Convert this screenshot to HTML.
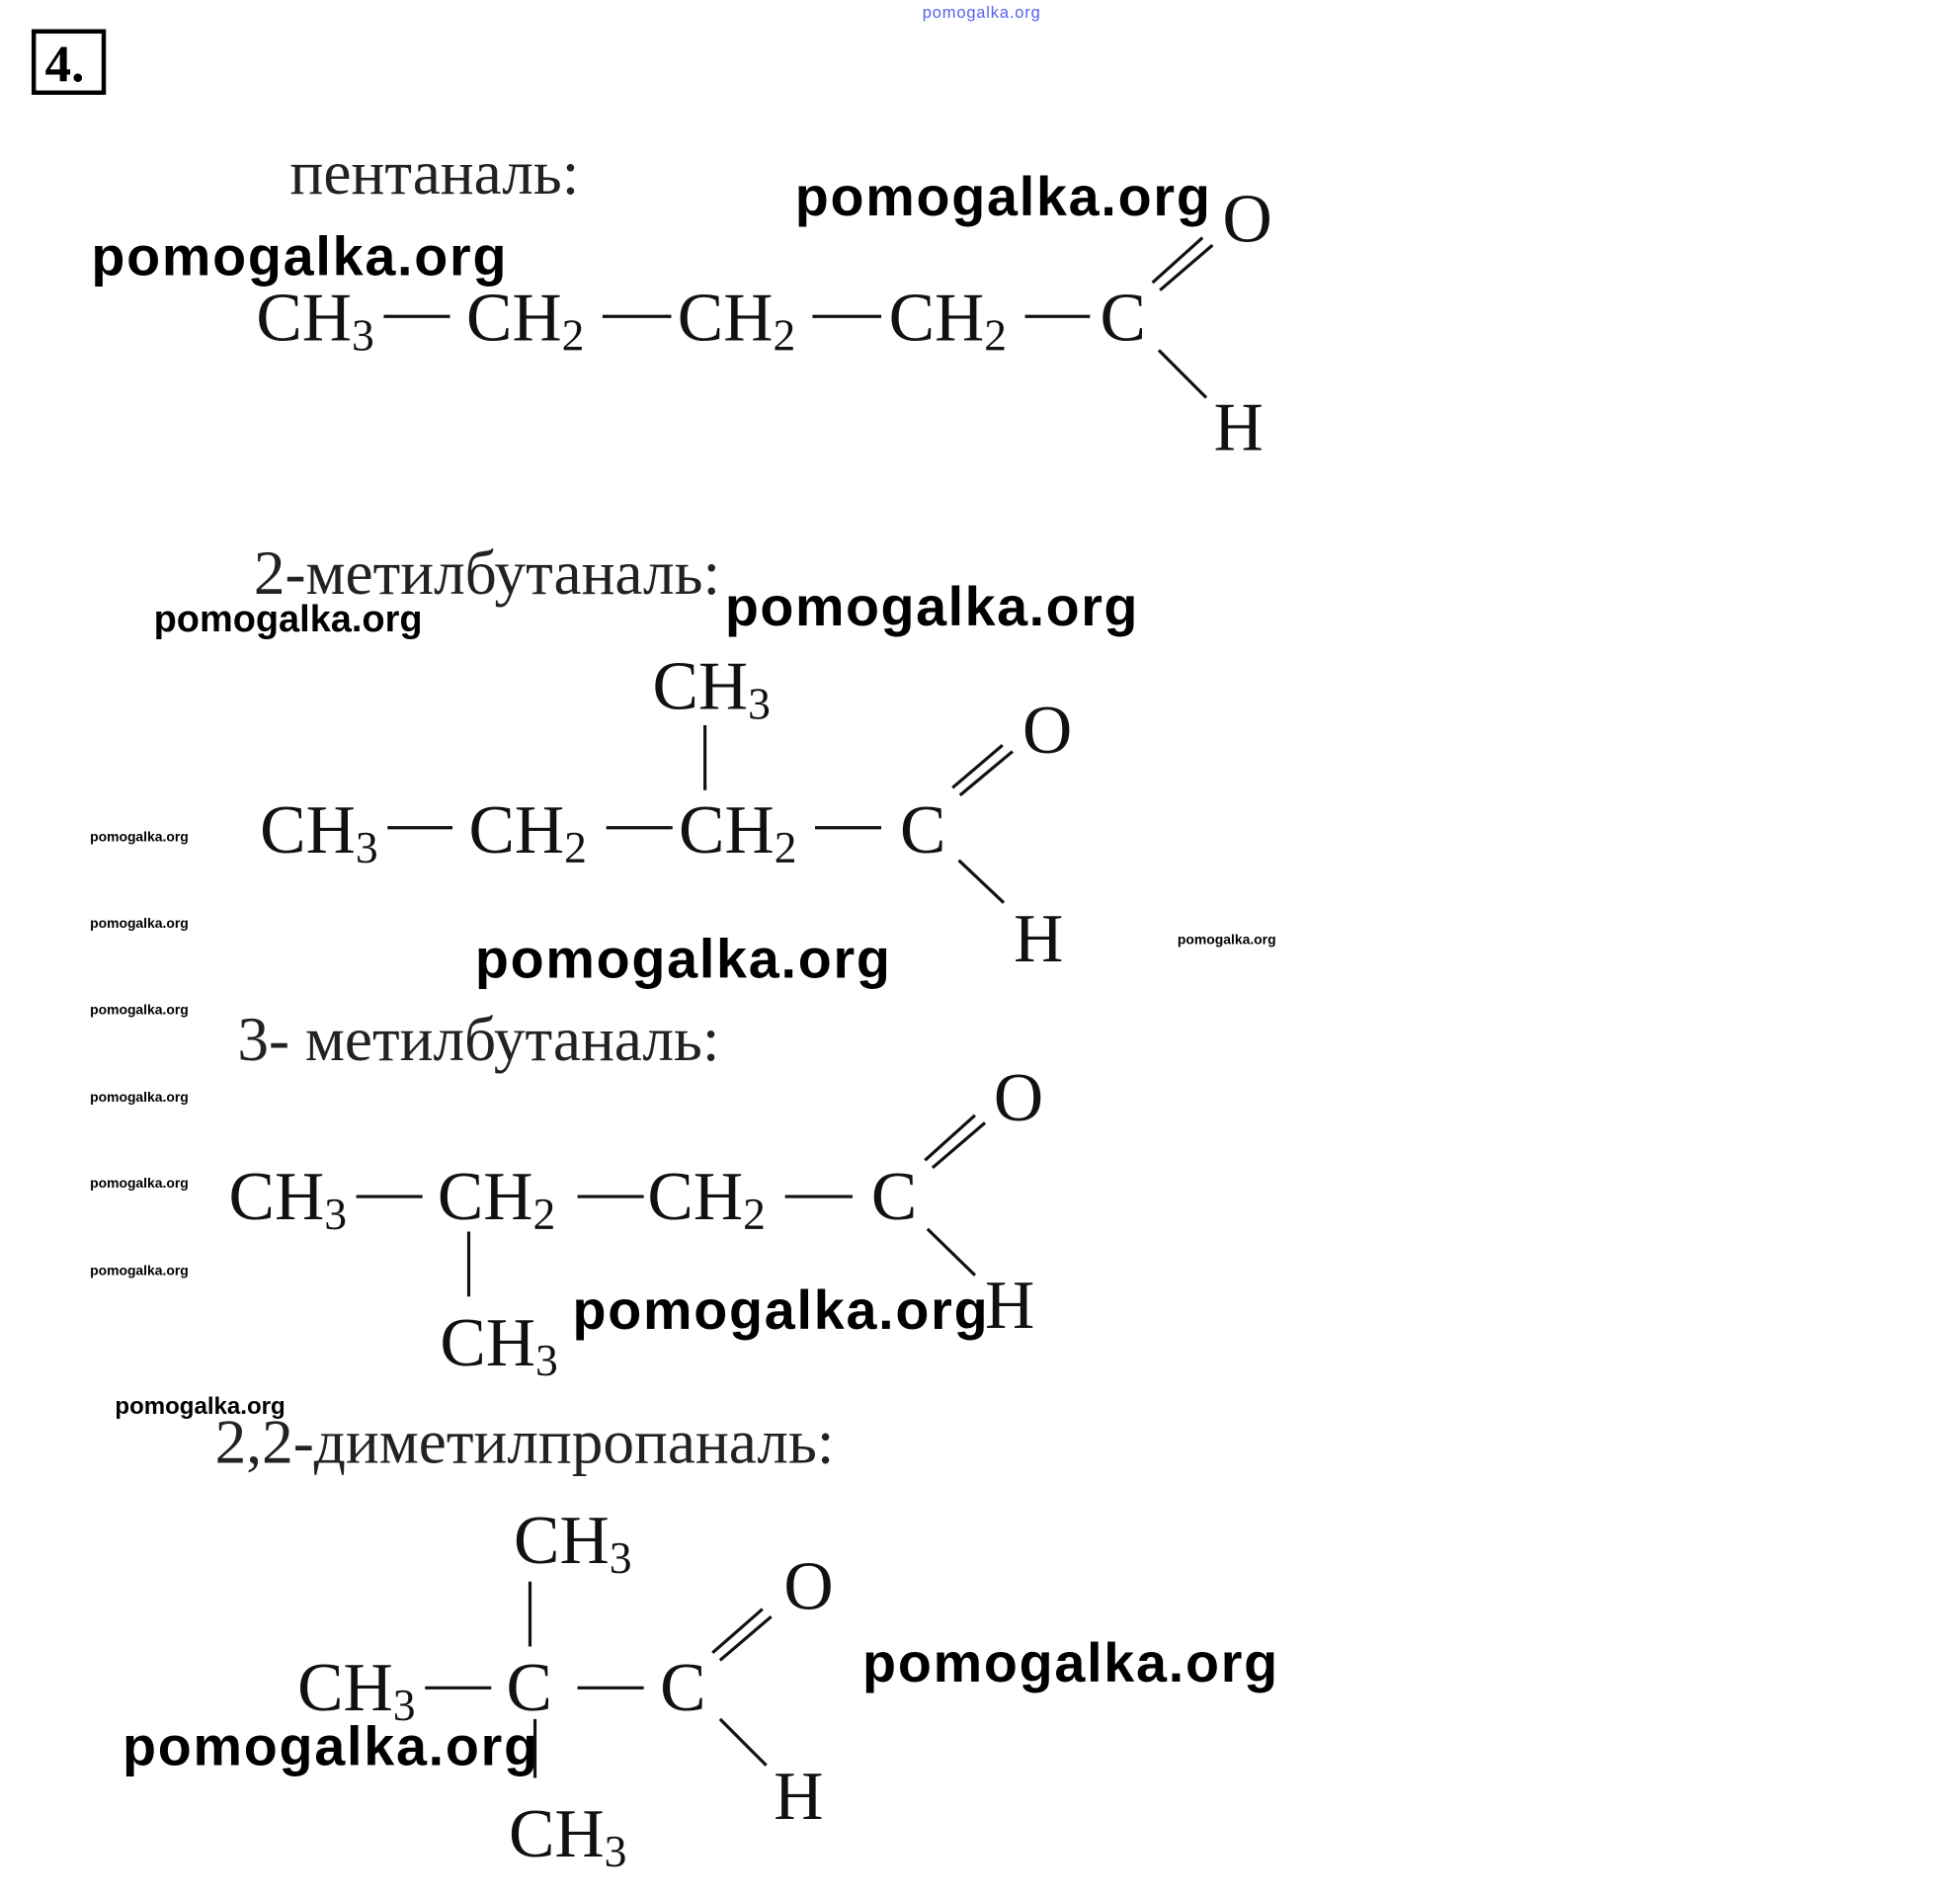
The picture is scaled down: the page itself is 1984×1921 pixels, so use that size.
<!DOCTYPE html>
<html><head><meta charset="utf-8"><style>
html,body{margin:0;padding:0;background:#fff;}
svg{display:block}
.c{font-family:"Liberation Serif","Noto Serif CJK SC",serif;font-size:55px;fill:#111}
.s{font-size:36px}
.n{font-family:"Liberation Serif","Noto Serif CJK SC",serif;font-size:50px;fill:#222}
.w{font-family:"Liberation Sans","Noto Sans CJK SC",sans-serif;font-weight:bold;font-size:44px;fill:#000}
.ws{font-family:"Liberation Sans",sans-serif;font-weight:bold;font-size:11px;fill:#000}
line{stroke:#111;stroke-width:2.5}
</style></head><body>
<svg width="1984" height="1921" viewBox="0 0 1568 1518" xmlns="http://www.w3.org/2000/svg">
<rect x="0" y="0" width="1568" height="1518" fill="#fff"/>
<text x="738" y="14" font-family="Liberation Sans,sans-serif" font-size="13" fill="#5560ee" textLength="94">pomogalka.org</text>
<rect x="27" y="25" width="56" height="49" fill="none" stroke="#000" stroke-width="3.5"/>
<text x="36" y="65" font-family="Liberation Serif,serif" font-weight="bold" font-size="42" fill="#000">4.</text>

<!-- 1 -->
<text class="n" x="232" y="155">пентаналь:</text>
<text class="w" x="636" y="172" textLength="332">pomogalka.org</text>
<text class="w" x="73" y="220" textLength="332">pomogalka.org</text>
<text class="c" x="205" y="272">CH<tspan class="s" dy="8">3</tspan></text>
<text class="c" x="373" y="272">CH<tspan class="s" dy="8">2</tspan></text>
<text class="c" x="542" y="272">CH<tspan class="s" dy="8">2</tspan></text>
<text class="c" x="711" y="272">CH<tspan class="s" dy="8">2</tspan></text>
<text class="c" x="880" y="272">C</text>
<text class="c" x="978" y="193">O</text>
<text class="c" x="971" y="360">H</text>
<line x1="307" y1="253" x2="360" y2="253"/><line x1="482" y1="253" x2="537" y2="253"/>
<line x1="650" y1="253" x2="705" y2="253"/><line x1="820" y1="253" x2="872" y2="253"/>
<line x1="922" y1="226" x2="962" y2="190"/><line x1="928" y1="232" x2="970" y2="196"/>
<line x1="927" y1="280" x2="965" y2="318"/>

<!-- 2 -->
<text class="n" x="203" y="475">2-метилбутаналь:</text>
<text class="w" x="123" y="505" style="font-size:30px">pomogalka.org</text>
<text class="w" x="580" y="500" textLength="330">pomogalka.org</text>
<text class="c" x="522" y="567">CH<tspan class="s" dy="8">3</tspan></text>
<line x1="564" y1="580" x2="564" y2="632"/>
<text class="c" x="208" y="682">CH<tspan class="s" dy="8">3</tspan></text>
<text class="c" x="375" y="682">CH<tspan class="s" dy="8">2</tspan></text>
<text class="c" x="543" y="682">CH<tspan class="s" dy="8">2</tspan></text>
<text class="c" x="720" y="682">C</text>
<text class="c" x="818" y="602">O</text>
<text class="c" x="811" y="769">H</text>
<line x1="310" y1="662" x2="362" y2="662"/><line x1="485" y1="662" x2="538" y2="662"/>
<line x1="652" y1="662" x2="705" y2="662"/>
<line x1="762" y1="630" x2="802" y2="596"/><line x1="768" y1="636" x2="810" y2="601"/>
<line x1="767" y1="688" x2="803" y2="722"/>
<text class="ws" x="72" y="673">pomogalka.org</text>
<text class="ws" x="72" y="742">pomogalka.org</text>
<text class="ws" x="72" y="811">pomogalka.org</text>
<text class="ws" x="72" y="881">pomogalka.org</text>
<text class="ws" x="72" y="950">pomogalka.org</text>
<text class="ws" x="72" y="1020">pomogalka.org</text>
<text class="ws" x="942" y="755">pomogalka.org</text>
<text class="w" x="380" y="782" textLength="332">pomogalka.org</text>

<!-- 3 -->
<text class="n" x="190" y="848">3- метилбутаналь:</text>
<text class="c" x="183" y="975">CH<tspan class="s" dy="8">3</tspan></text>
<text class="c" x="350" y="975">CH<tspan class="s" dy="8">2</tspan></text>
<text class="c" x="518" y="975">CH<tspan class="s" dy="8">2</tspan></text>
<text class="c" x="697" y="975">C</text>
<text class="c" x="795" y="896">O</text>
<text class="c" x="788" y="1062">H</text>
<line x1="285" y1="957" x2="338" y2="957"/><line x1="462" y1="957" x2="515" y2="957"/>
<line x1="628" y1="957" x2="682" y2="957"/>
<line x1="740" y1="928" x2="780" y2="892"/><line x1="746" y1="934" x2="788" y2="898"/>
<line x1="742" y1="983" x2="780" y2="1020"/>
<line x1="375" y1="985" x2="375" y2="1037"/>
<text class="c" x="352" y="1092">CH<tspan class="s" dy="8">3</tspan></text>
<text class="w" x="458" y="1063" textLength="332">pomogalka.org</text>
<text class="w" x="92" y="1131" style="font-size:19px">pomogalka.org</text>

<!-- 4 -->
<text class="n" x="172" y="1170">2,2-диметилпропаналь:</text>
<text class="c" x="411" y="1250">CH<tspan class="s" dy="8">3</tspan></text>
<line x1="424" y1="1265" x2="424" y2="1317"/>
<text class="c" x="238" y="1368">CH<tspan class="s" dy="8">3</tspan></text>
<text class="c" x="405" y="1368">C</text>
<text class="c" x="528" y="1368">C</text>
<text class="c" x="627" y="1287">O</text>
<text class="c" x="619" y="1455">H</text>
<line x1="340" y1="1350" x2="393" y2="1350"/><line x1="462" y1="1350" x2="515" y2="1350"/>
<line x1="570" y1="1322" x2="610" y2="1287"/><line x1="576" y1="1328" x2="617" y2="1293"/>
<line x1="576" y1="1375" x2="613" y2="1412"/>
<line x1="428" y1="1375" x2="428" y2="1422"/>
<text class="c" x="407" y="1485">CH<tspan class="s" dy="8">3</tspan></text>
<text class="w" x="690" y="1345" textLength="332">pomogalka.org</text>
<text class="w" x="98" y="1412" textLength="332">pomogalka.org</text>
</svg>
</body></html>
